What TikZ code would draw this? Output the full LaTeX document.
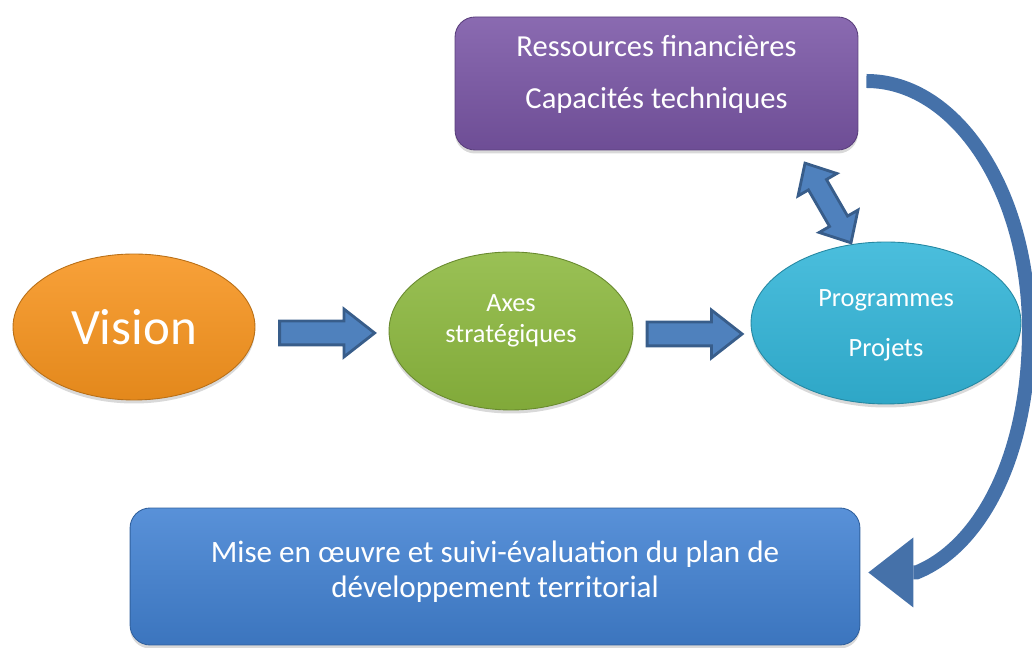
\documentclass[tikz,border=0pt]{standalone}
\usepackage{fontspec}
\setmainfont{Carlito}
\usetikzlibrary{calc,positioning,shapes.geometric,shapes.arrows,arrows.meta,shadows}

\definecolor{visionfill}{HTML}{F7941E}
\definecolor{axesfill}{HTML}{8CB83E}
\definecolor{progfill}{HTML}{32B5D8}
\definecolor{resfill}{HTML}{7A56A6}
\definecolor{misefill}{HTML}{4282D3}
\definecolor{arrowfill}{HTML}{4F81BD}
\definecolor{arrowedge}{HTML}{385D8A}
\definecolor{loopblue}{HTML}{4571A9}

\tikzset{
  softshadow/.style={drop shadow={opacity=0.3, shadow xshift=0pt, shadow yshift=-2pt}},
  blob/.style={ellipse, inner sep=0pt, align=center, text=white, draw=#1!75!black, line width=0.5pt,
    top color=#1!88!white, bottom color=#1!92!black, softshadow},
  panel/.style={rectangle, rounded corners=0.4cm, inner sep=0pt, draw=#1!75!black, line width=0.5pt,
    top color=#1!88!white, bottom color=#1!90!black, softshadow},
  paneltext/.style={text=white, align=center, inner sep=0pt},
  blockarrow/.style={single arrow, draw=arrowedge, line width=1.6pt, fill=arrowfill,
    inner xsep=0pt, inner ysep=0.21cm, single arrow head extend=0.24cm,
    single arrow tip angle=76, minimum height=1.9cm},
  twowayarrow/.style={double arrow, draw=arrowedge, line width=1.6pt, fill=arrowfill,
    inner xsep=0pt, inner ysep=0.18cm, double arrow head extend=0.24cm,
    double arrow tip angle=84, minimum height=1.84cm},
  loopline/.style={loopblue, line width=0.28cm, -{Triangle[length=0.9cm, width=1.4cm, line width=0pt]}},
}

\begin{document}
\begin{tikzpicture}[x=0.02cm, y=0.02cm]
	%%%%% START %%%%%
	\useasboundingbox (0,0) rectangle (1032,648);
	
	\node[panel=resfill, minimum width=8.06cm, minimum height=2.66cm] (ressources) at (656.5,564.5) {};
	\node[paneltext, font=\fontsize{17.4}{30}\selectfont] (restext) at ($(ressources.center)+(0,9)$)
		{Ressources financières\\Capacités techniques};
	
	\node[panel=misefill, minimum width=14.6cm, minimum height=2.74cm] (mise) at (495,71.5) {};
	\node[paneltext, font=\fontsize{17.7}{20}\selectfont] (misetext) at ($(mise.center)+(0,5)$)
		{Mise en œuvre et suivi-évaluation du plan de\\développement territorial};
	
	\node[blob=visionfill, minimum width=4.84cm, minimum height=2.92cm, font=\fontsize{29}{34}\selectfont] (vision) at (134,321) {Vision};
	
	\node[blob=axesfill, minimum width=4.88cm, minimum height=3.16cm] (axes) at (511,317) {};
	\node[paneltext, font=\fontsize{15}{17.5}\selectfont] (axestext) at ($(axes.center)+(0,10)$)
		{Axes\\stratégiques};
	
	\node[blob=progfill, minimum width=5.4cm, minimum height=3.24cm] (prog) at (886,325) {};
	\node[paneltext, font=\fontsize{15}{28.5}\selectfont] (progtext) at ($(prog.center)+(0,-2)$)
		{Programmes\\Projets};
	
	\node[blockarrow] (a1) at (319.5,315) {};
	\node[blockarrow] (a2) at (687,314) {};
	\node[twowayarrow, rotate=120] (a3) at (828,445) {};
	
	% boucle vers la mise en oeuvre
	\coordinate (loopright) at (1029,318);
	\draw[loopline] ($(ressources.east)+(8,2.5)$)
		to[out=0, in=90, out distance=1.81cm, in distance=2.75cm] (loopright)
		to[out=-90, in=22, out distance=2.5cm, in distance=1.4cm] ($(mise.east)+(56,4)$)
		-- ($(mise.east)+(8,4)$);
	
	%%%%% END %%%%%
\end{tikzpicture}
\end{document}
